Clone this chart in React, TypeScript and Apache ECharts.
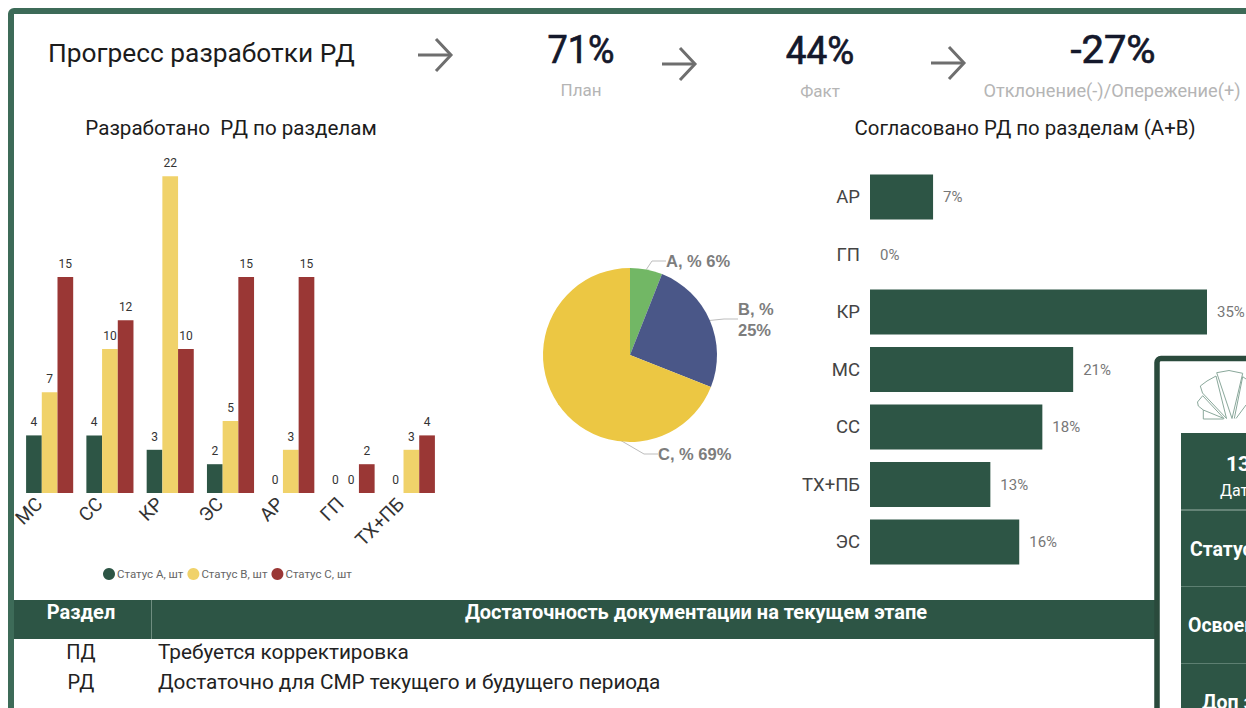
import React, { useEffect, useRef } from "react";
import * as echarts from "echarts";

const sections = ["МС", "СС", "КР", "ЭС", "АР", "ГП", "ТХ+ПБ"];
const statusA = [4, 4, 3, 2, 0, 0, 0];
const statusB = [7, 10, 22, 5, 3, 0, 3];
const statusC = [15, 12, 10, 15, 15, 2, 4];
const seriesNames = ["Статус А, шт", "Статус В, шт", "Статус С, шт"];

const approvedSections = ["АР", "ГП", "КР", "МС", "СС", "ТХ+ПБ", "ЭС"];
const approvedValues = [6.55, 0, 35, 21.1, 17.9, 12.5, 15.5];

const pieData = [
  { name: "A, %", value: 6 },
  { name: "B, %", value: 25 },
  { name: "C, %", value: 69 },
];

const tableRows = [
  ["ПД", "Требуется корректировка"],
  ["РД", "Достаточно для СМР текущего и будущего периода"],
];

const GREEN = "#2d5545";
const FRAME = "#3d6b58";
const CARD = "#2a4a3c";
const FONT = "Roboto, sans-serif";

const text = (x: number, y: number, t: string, size: number, color: string, align = "left", weight: any = "normal", font = FONT) => ({
  type: "text",
  x,
  y,
  silent: true,
  style: { text: t, fontSize: size, fill: color, align, verticalAlign: "middle", fontWeight: weight, fontFamily: font },
});

const kpi = (x: number, y: number, t: string, scaleX: number) => ({
  type: "text",
  x,
  y,
  scaleX,
  silent: true,
  style: {
    text: t,
    fontSize: 38,
    fill: "#14182b",
    stroke: "#14182b",
    lineWidth: 0.7,
    align: "center",
    verticalAlign: "middle",
    fontFamily: FONT,
  },
});

const arrow = (x: number, y: number) => ({
  type: "group",
  x,
  y,
  silent: true,
  children: [
    { type: "line", shape: { x1: 0, y1: 0, x2: 33, y2: 0 }, style: { stroke: "#6e6e6e", lineWidth: 3 } },
    { type: "polyline", shape: { points: [[18, -16], [33, 0], [18, 16]] }, style: { stroke: "#6e6e6e", lineWidth: 3, fill: "none" } },
  ],
});

const logoLines = [
  [[1223.5, 419], [1203.3, 419], [1203.3, 410], [1198.3, 406], [1197.5, 402], [1202.7, 395.7], [1224, 418.5], [1203.3, 410]],
  [[1200.3, 386], [1207, 381], [1216, 376], [1226.5, 418.5], [1202.5, 393], [1200.3, 386]],
  [[1216.7, 372.7], [1229, 370.5], [1242.7, 373.3], [1232, 418.5], [1216.7, 372.7]],
  [[1246, 379], [1242.7, 376.7], [1234.3, 418.5]],
  [[1246, 405], [1236, 418.5]],
];

const bar = (name: string, data: number[], color: string) => ({
  type: "bar",
  name,
  data,
  xAxisIndex: 0,
  yAxisIndex: 0,
  barWidth: 15.7,
  barGap: 0,
  itemStyle: { color },
  label: { show: true, position: "top", distance: 7, fontSize: 12, color: "#333", fontFamily: FONT },
});

export default function App() {
  const ref = useRef<HTMLDivElement>(null);
  useEffect(() => {
    document.body.style.margin = "0";
    document.body.style.overflow = "hidden";
    const chart = echarts.init(ref.current!, null, { renderer: "svg" });
    chart.setOption({
      animation: false,
      backgroundColor: "#fff",
      grid: [
        { left: 19.5, top: 133, width: 422, height: 360 },
        { left: 870, top: 168.25, width: 337, height: 402.5 },
      ],
      xAxis: [
        {
          type: "category",
          gridIndex: 0,
          data: sections,
          axisLine: { show: false },
          axisTick: { show: false },
          axisLabel: { rotate: 45, interval: 0, fontSize: 19, margin: -3, padding: [0, 15, 0, 0], color: "#333", fontFamily: FONT },
        },
        { type: "value", gridIndex: 1, min: 0, max: 35, show: false },
      ],
      yAxis: [
        { type: "value", gridIndex: 0, min: 0, max: 25, show: false },
        {
          type: "category",
          gridIndex: 1,
          inverse: true,
          data: approvedSections,
          axisLine: { show: false },
          axisTick: { show: false },
          axisLabel: { fontSize: 18.5, margin: 10, color: "#444", fontFamily: FONT },
        },
      ],
      legend: {
        data: seriesNames,
        left: 98,
        top: 563,
        itemWidth: 12,
        itemHeight: 12,
        itemGap: 4,
        icon: "circle",
        textStyle: { fontSize: 11.5, color: "#666", fontFamily: FONT, padding: [0, 0, 0, -3] },
      },
      series: [
        bar(seriesNames[0], statusA, GREEN),
        bar(seriesNames[1], statusB, "#f0d26a"),
        bar(seriesNames[2], statusC, "#9a3735"),
        {
          type: "bar",
          xAxisIndex: 1,
          yAxisIndex: 1,
          data: approvedValues,
          barWidth: 45,
          itemStyle: { color: GREEN },
          label: {
            show: true,
            position: "right",
            distance: 10,
            fontSize: 15,
            color: "#777",
            fontFamily: FONT,
            formatter: (p: any) => `${Math.round(p.value)}%`,
          },
        },
        {
          type: "pie",
          center: [630, 355],
          radius: 87,
          startAngle: 90,
          clockwise: true,
          data: pieData,
          color: ["#72b765", "#4a5788", "#ecc743"],
          label: {
            show: true,
            fontSize: 16.5,
            fontWeight: "bold",
            color: "#7d7d7d",
            fontFamily: "'Liberation Sans', sans-serif",
            lineHeight: 21,
            formatter: (p: any) => (p.name === "B, %" ? `${p.name}\n${p.value}%` : `${p.name} ${p.value}%`),
          },
          labelLine: { show: true, length: 8, length2: 14, lineStyle: { color: "#bdbdbd", width: 1 } },
          labelLayout: (p: any) => {
            const positions = [
              { x: 666, y: 261 },
              { x: 738, y: 319 },
              { x: 658, y: 454 },
            ];
            return { ...positions[p.dataIndex], align: "left", verticalAlign: "middle" };
          },
        },
      ],
      graphic: [
        { type: "rect", silent: true, z: -10, shape: { x: 11, y: 11, width: 1400, height: 900, r: 3 }, style: { fill: "#fff", stroke: FRAME, lineWidth: 6 } },
        text(48, 53, "Прогресс разработки РД", 26.3, "#1c1c1c"),
        arrow(418, 55),
        arrow(662, 64),
        arrow(931, 63),
        kpi(581, 50, "71%", 0.95),
        text(581, 90, "План", 17, "#b5b5b5", "center"),
        kpi(820, 51, "44%", 0.97),
        text(820, 91, "Факт", 17, "#b5b5b5", "center"),
        kpi(1113, 50, "-27%", 1.05),
        text(1112, 90, "Отклонение(-)/Опережение(+)", 18.2, "#b5b5b5", "center"),
        text(231, 128, "Разработано  РД по разделам", 20.6, "#1c1c1c", "center"),
        text(1025, 128, "Согласовано РД по разделам (А+В)", 20.4, "#1c1c1c", "center"),
        { type: "rect", silent: true, shape: { x: 14, y: 600, width: 1142, height: 39 }, style: { fill: GREEN } },
        { type: "line", silent: true, shape: { x1: 151.5, y1: 600, x2: 151.5, y2: 639 }, style: { stroke: "#6f8d80", lineWidth: 1 } },
        text(81, 612, "Раздел", 20, "#fff", "center", "bold"),
        text(696, 612, "Достаточность документации на текущем этапе", 20, "#fff", "center", "bold"),
        ...tableRows.flatMap((row, i) => [
          text(81, 652 + i * 30, row[0], 20, "#222", "center"),
          text(158, 652 + i * 30, row[1], 20.75, "#222"),
        ]),
        { type: "rect", silent: true, shape: { x: 1157, y: 358.5, width: 300, height: 500, r: 4 }, style: { fill: "#fff", stroke: CARD, lineWidth: 5.5 } },
        ...logoLines.map((points) => ({
          type: "polyline",
          silent: true,
          shape: { points },
          style: { stroke: "#8aa89b", lineWidth: 1, fill: "none" },
        })),
        { type: "rect", silent: true, shape: { x: 1181, y: 433, width: 120, height: 300 }, style: { fill: GREEN } },
        { type: "line", silent: true, shape: { x1: 1181, y1: 510, x2: 1246, y2: 510 }, style: { stroke: "#9db3a9", lineWidth: 1 } },
        { type: "line", silent: true, shape: { x1: 1181, y1: 586.5, x2: 1246, y2: 586.5 }, style: { stroke: "#5d7f71", lineWidth: 1 } },
        { type: "line", silent: true, shape: { x1: 1181, y1: 663.5, x2: 1246, y2: 663.5 }, style: { stroke: "#5d7f71", lineWidth: 1 } },
        text(1226, 464, "13", 21, "#fff", "left", "bold"),
        text(1220, 490, "Дата", 16, "#fff"),
        text(1190, 549, "Статус", 19.5, "#fff", "left", "bold"),
        text(1188, 625, "Освоение", 19.5, "#fff", "left", "bold"),
        text(1202, 702, "Доп з", 19.5, "#fff", "left", "bold"),
      ],
    });
    return () => chart.dispose();
  }, []);
  return <div ref={ref} style={{ position: "fixed", left: 0, top: 0, width: 1246, height: 708 }} />;
}
